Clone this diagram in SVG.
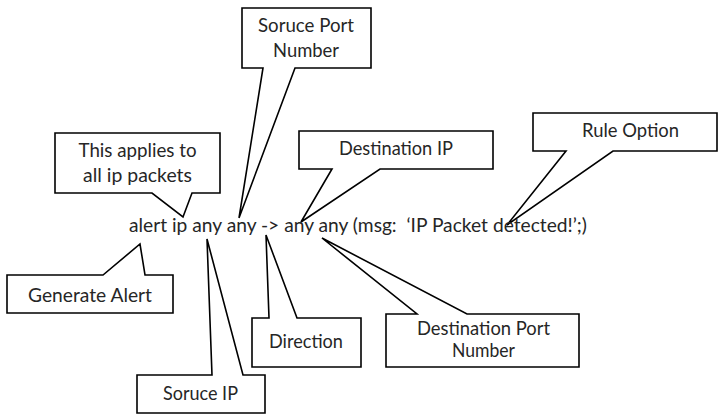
<svg xmlns="http://www.w3.org/2000/svg" width="719" height="415" viewBox="0 0 719 415">
  <style>
    .callout { fill: #ffffff; stroke: #000000; stroke-width: 1.6; stroke-linejoin: miter; }
    .label { font-family: Lato, "Noto Sans", "Liberation Sans", sans-serif; font-size: 20px; fill: #262626; text-anchor: middle; }
    .rule { font-family: Lato, "Noto Sans", "Liberation Sans", sans-serif; font-size: 20px; fill: #262626; white-space: pre; }
  </style>
  <rect width="719" height="415" fill="#ffffff"/>

  <!-- callouts pointing at parts of the rule -->
  <g id="note-protocol">
    <path class="callout" d="M55,133 H220 V193 H192 L183,217 L152,193 H55 Z"/>
    <text class="label" x="137.5" y="157" textLength="118" lengthAdjust="spacingAndGlyphs">This applies to</text>
    <text class="label" x="137.5" y="182" textLength="109" lengthAdjust="spacingAndGlyphs">all ip packets</text>
  </g>
  <g id="note-action">
    <path class="callout" d="M7,275 H103 L140,244 L145,275 H173 V313 H7 Z"/>
    <text class="label" x="90" y="302" textLength="124" lengthAdjust="spacingAndGlyphs">Generate Alert</text>
  </g>
  <g id="note-src-port">
    <path class="callout" d="M242,8 H371 V68 H295 L239,218 L263,68 H242 Z"/>
    <text class="label" x="306" y="32" textLength="96" lengthAdjust="spacingAndGlyphs">Soruce Port</text>
    <text class="label" x="306" y="57" textLength="66" lengthAdjust="spacingAndGlyphs">Number</text>
  </g>
  <g id="note-dst-ip">
    <path class="callout" d="M299,131 H493 V169 H380 L301,222 L332,169 H299 Z"/>
    <text class="label" x="396" y="155" textLength="114" lengthAdjust="spacingAndGlyphs">Destination IP</text>
  </g>
  <g id="note-options">
    <path class="callout" d="M533,113 H717 V151 H613 L507,225 L566,151 H533 Z"/>
    <text class="label" x="630.5" y="137" textLength="97" lengthAdjust="spacingAndGlyphs">Rule Option</text>
  </g>
  <g id="note-src-ip">
    <path class="callout" d="M137,375 H212 L207,239 L243,375 H265 V413 H137 Z"/>
    <text class="label" x="200.5" y="400" textLength="75" lengthAdjust="spacingAndGlyphs">Soruce IP</text>
  </g>
  <g id="note-direction">
    <path class="callout" d="M252,318 H269 L266,235 L297,318 H361 V367 H252 Z"/>
    <text class="label" x="306" y="348" textLength="74" lengthAdjust="spacingAndGlyphs">Direction</text>
  </g>
  <g id="note-dst-port">
    <path class="callout" d="M386,314 H417 L322,238 L467,314 H579 V367 H386 Z"/>
    <text class="label" x="483.5" y="335" textLength="133" lengthAdjust="spacingAndGlyphs">Destination Port</text>
    <text class="label" x="483.5" y="357" textLength="63" lengthAdjust="spacingAndGlyphs">Number</text>
  </g>

  <!-- the Snort rule itself -->
  <g id="rule-text">
    <text class="rule" x="129" y="232" textLength="458" lengthAdjust="spacingAndGlyphs">alert ip any any -&gt; any any (msg:  ‘IP Packet detected!’;)</text>
  </g>
</svg>
